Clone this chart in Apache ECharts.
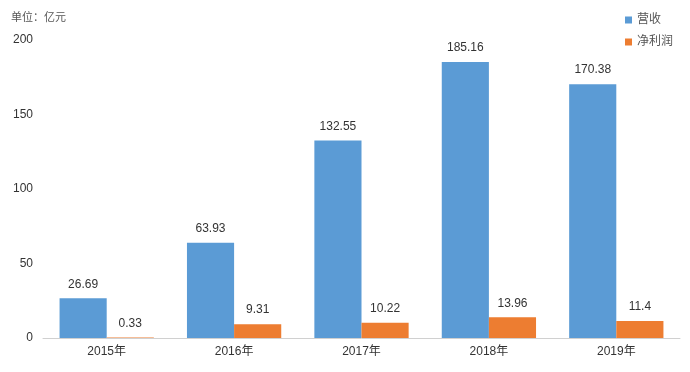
<!DOCTYPE html>
<html><head><meta charset="utf-8">
<script src="https://cdn.jsdelivr.net/npm/echarts@6/dist/echarts.min.js"></script>
<style>html,body{margin:0;padding:0;background:#fff}#c{width:690px;height:372px}</style>
</head><body><div id="c"></div>
<script>
const categories = ['2015年','2016年','2017年','2018年','2019年'];
const revenue = [26.69, 63.93, 132.55, 185.16, 170.38];
const profit = [0.33, 9.31, 10.22, 13.96, 11.4];
const yTicks = [0, 50, 100, 150, 200];
const chart = echarts.init(document.getElementById('c'));
const font = '"Liberation Sans", Arial, "Noto Sans CJK SC", sans-serif';
chart.setOption({
  animation: false,
  textStyle: {fontFamily: font},
  title: {text: '单位：亿元', left: 6, top: 7, textStyle: {fontSize: 11, fontWeight: 'normal', color: '#555', fontFamily: font}},
  legend: {orient: 'vertical', right: 12, top: 9, itemWidth: 7, itemHeight: 7, itemGap: 10, icon: 'rect',
    textStyle: {fontSize: 12, color: '#555', fontFamily: font}, data: ['营收','净利润']},
  grid: {left: 43, right: 10, top: 40, bottom: 34, containLabel: false},
  xAxis: {type: 'category', data: categories, axisTick: {show: false},
    axisLine: {lineStyle: {color: '#d0d0d0'}},
    axisLabel: {fontSize: 12, color: '#333', margin: 8}},
  yAxis: {type: 'value', min: yTicks[0], max: yTicks[yTicks.length-1], interval: 50,
    splitLine: {show: false}, axisLine: {show: false}, axisTick: {show: false},
    axisLabel: {fontSize: 12, color: '#333', margin: 10}},
  series: [
    {name: '营收', type: 'bar', data: revenue, barGap: '0%', barCategoryGap: '26%',
      itemStyle: {color: '#5B9BD5'}, label: {show: true, position: 'top', fontSize: 12, color: '#333', distance: 8}},
    {name: '净利润', type: 'bar', data: profit,
      itemStyle: {color: '#ED7D31'}, label: {show: true, position: 'top', fontSize: 12, color: '#333', distance: 8}}
  ]
});
</script></body></html>
